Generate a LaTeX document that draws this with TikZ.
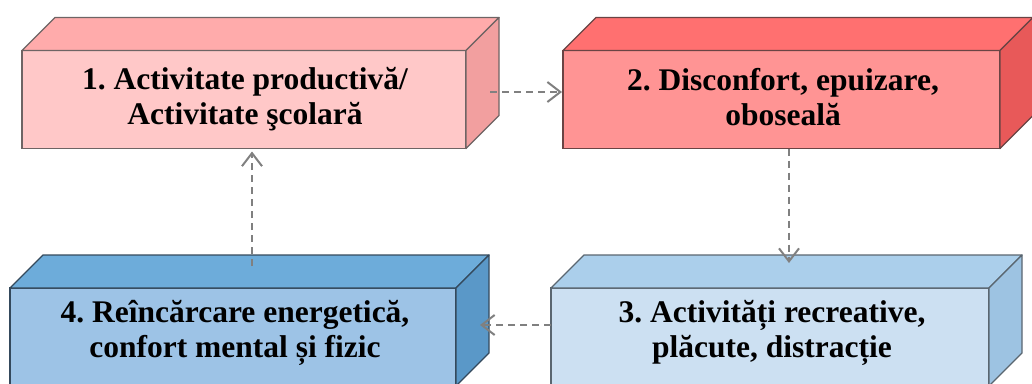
\documentclass[tikz,border=0pt]{standalone}
\usepackage{fontspec}
\setmainfont{Liberation Serif}
\usetikzlibrary{arrows.meta,calc}
\frenchspacing

% face colours of the four blocks
\definecolor{pinkFront}{HTML}{FFC8C8}
\definecolor{pinkTop}{HTML}{FFABAB}
\definecolor{pinkSide}{HTML}{F29F9F}
\definecolor{pinkEdge}{HTML}{6E6464}
\definecolor{redFront}{HTML}{FF9494}
\definecolor{redTop}{HTML}{FF7070}
\definecolor{redSide}{HTML}{E85959}
\definecolor{redEdge}{HTML}{6A4444}
\definecolor{paleFront}{HTML}{CCE0F2}
\definecolor{paleTop}{HTML}{ABCFEB}
\definecolor{paleSide}{HTML}{9DC3E2}
\definecolor{paleEdge}{HTML}{5A6670}
\definecolor{blueFront}{HTML}{9DC3E6}
\definecolor{blueTop}{HTML}{6DACDA}
\definecolor{blueSide}{HTML}{5A98C8}
\definecolor{blueEdge}{HTML}{34495C}
\definecolor{arrowGray}{HTML}{808080}

\tikzset{
  frontface/.style={draw=#1, line width=1.3pt, inner sep=0pt, outer sep=0pt,
    minimum height=98pt},
  sideface/.style={draw=#1, line width=1.3pt, line join=round},
  lbl/.style={font=\bfseries\fontsize{31.5}{35.5}\selectfont, align=center,
    text=black, inner sep=0pt},
  flow/.style={draw=arrowGray, line width=2pt, dash pattern=on 7pt off 5pt,
    -{Straight Barb[length=13pt,width=20pt,line width=2pt]}},
}

% block: name, centre x, centre y, width, front, top, side, edge
\newcommand\cuboidblock[8]{%
  \node[frontface=#8, fill=#5, minimum width=#4] (#1) at (#2,#3) {};
  \draw[sideface=#8, fill=#6] (#1.north west) -- ++(33,-33)
    -- ($(#1.north east)+(33,-33)$) -- (#1.north east) -- cycle;
  \draw[sideface=#8, fill=#7] (#1.north east) -- ++(33,-33)
    -- ($(#1.south east)+(33,-33)$) -- (#1.south east) -- cycle;
}

\begin{document}
\begin{tikzpicture}[x=1pt, y=-1pt]
  \useasboundingbox (0,0) rectangle (1032,383);

  \cuboidblock{b1}{244}{99.5}{444}{pinkFront}{pinkTop}{pinkSide}{pinkEdge}
  \cuboidblock{b2}{781.5}{99.5}{437}{redFront}{redTop}{redSide}{redEdge}
  \cuboidblock{b4}{233}{337}{446}{blueFront}{blueTop}{blueSide}{blueEdge}
  \cuboidblock{b3}{770}{337}{438}{paleFront}{paleTop}{paleSide}{paleEdge}

  \node[lbl] (t1) at (245,99) {1. Activitate productivă/\\Activitate şcolară};
  \node[lbl] (t2) at (783,97) {2. Disconfort, epuizare,\\oboseală};
  \node[lbl] (t3) at (772,333) {3. Activități recreative,\\plăcute, distracție};
  \node[lbl] (t4) at (235,333) {4. Reîncărcare energetică,\\confort mental și fizic};

  % connection points on the faces
  \coordinate (c1out) at ($(b1.east)+(24,-7.5)$);
  \coordinate (c2in)  at ($(b2.west)+(-1,-7.5)$);
  \coordinate (c2out) at ($(b2.south)+(7.5,0)$);
  \coordinate (c3in)  at ($(b3.north)+(19,-25)$);
  \coordinate (c3out) at ($(b3.west)+(0,-12)$);
  \coordinate (c4in)  at ($(b4.east)+(24,-12)$);
  \coordinate (c4out) at ($(b4.north)+(19,-22)$);
  \coordinate (c1in)  at ($(b1.south)+(8,3)$);

  \draw[flow] (c1out) -- (c2in);
  \draw[flow] (c2out) -- (c3in);
  \draw[flow] (c3out) -- (c4in);
  \draw[flow] (c4out) -- (c1in);
\end{tikzpicture}
\end{document}
